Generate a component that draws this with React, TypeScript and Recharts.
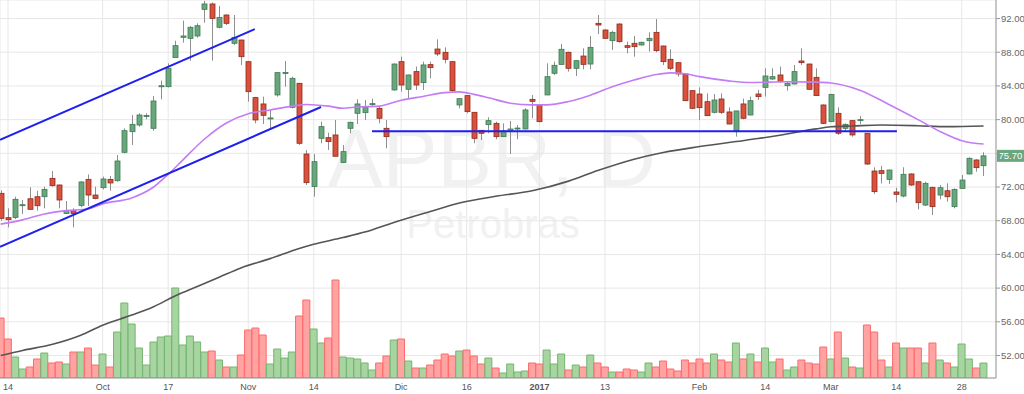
import React from "react";
import {
  ComposedChart,
  Bar,
  Line,
  XAxis,
  YAxis,
  CartesianGrid,
  ReferenceLine,
  Cell,
} from "recharts";

// APBR daily candles, 13 Sep 2016 .. 31 Mar 2017
// bar index 0 = 14 Sep (first bar on screen is index -1)
const FIRST_INDEX = -1;

const opens = [
  71.25, 68.36, 68.39, 69.8, 70.61, 70.85, 70.85, 73.03, 72.24, 68.87,
  69.19, 69.82, 72.91, 71.05, 71.92, 72.91, 72.75, 76.12, 78.57, 79.36,
  80.4, 78.97, 83.95, 83.91, 87.36, 89.77, 89.65, 89.93, 93.09, 93.73,
  90.96, 92.42, 89.06, 89.45, 86.88, 82.61, 81.86, 80.1, 82.93, 85.5,
  81.46, 84.31, 75.92, 72.05, 77.78, 77.86, 78.18, 74.9, 78.97, 80.75,
  80.83, 81.8, 81.34, 78.97, 83.52, 86.88, 83.6, 85.7, 84.39, 86.53,
  88.38, 87.99, 86.88, 81.74, 82.85, 80.87, 78.73, 79.4, 79.56, 77.98,
  78.65, 78.95, 78.89, 82.41, 81.7, 82.93, 85.5, 86.56, 87.99, 86.09,
  87.55, 86.6, 91.43, 90.64, 89.37, 91.35, 88.78, 89.06, 88.86, 89.37,
  90.36, 88.74, 87.16, 86.76, 85.42, 83.44, 83.04, 82.13, 80.87, 82.45,
  80.91, 78.69, 81.86, 80.55, 83.04, 83.83, 84.82, 85.3, 84.03, 84.23,
  86.96, 86.6, 85.02, 81.74, 79.76, 80.75, 78.97, 79.88, 79.88, 78.38,
  73.9, 73.94, 72.91, 71.41, 70.93, 73.55, 72.63, 69.86, 71.96, 71.05,
  71.56, 69.67, 71.84, 73.55, 75.21, 74.53,
];

const highs = [
  71.6, 69.47, 70.85, 70.46, 71.96, 71.56, 72.04, 73.9, 72.3, 70.34,
  69.47, 72.7, 73.5, 72.04, 73.23, 73.31, 75.8, 78.96, 80.55, 80.75,
  80.75, 82.8, 84.63, 86.68, 89.37, 91.75, 91.11, 91.43, 94.1, 93.9,
  93.49, 92.5, 92.42, 89.5, 86.95, 82.7, 82.73, 81.15, 85.6, 86.96,
  85.1, 84.35, 76.4, 75.92, 79.76, 78.45, 79.96, 76.99, 79.76, 82.41,
  82.33, 82.49, 81.54, 79.96, 86.68, 87.47, 85.35, 86.29, 86.88, 86.88,
  89.53, 88.58, 86.95, 82.53, 82.93, 80.9, 78.77, 80.28, 79.76, 79.56,
  79.84, 79.36, 81.34, 82.93, 81.78, 86.68, 86.88, 88.98, 88.07, 87.05,
  88.46, 89.93, 92.42, 90.72, 90.56, 91.43, 89.26, 89.93, 89.26, 90.36,
  91.94, 88.8, 88.35, 86.8, 85.45, 83.5, 83.83, 83.12, 83.04, 83.12,
  81.46, 81.05, 82.49, 82.73, 83.52, 86.09, 86.09, 86.29, 84.51, 86.49,
  88.46, 86.65, 86.09, 81.8, 83.05, 81.46, 79.56, 79.96, 80.43, 78.42,
  74.34, 74.5, 74.05, 71.92, 74.34, 73.6, 72.66, 72.63, 72.04, 72.24,
  72.44, 71.84, 73.43, 75.53, 75.29, 76.12,
];

const lows = [
  68.0, 67.21, 68.2, 68.8, 69.27, 69.19, 69.47, 72.04, 69.47, 68.8,
  67.21, 69.6, 69.75, 70.54, 71.72, 71.56, 72.63, 76.0, 76.99, 79.17,
  80.04, 78.69, 82.41, 83.83, 87.36, 89.14, 87.0, 89.73, 91.51, 87.0,
  90.84, 91.23, 88.86, 86.49, 82.13, 79.56, 79.48, 78.77, 82.73, 83.91,
  81.34, 76.99, 72.24, 70.86, 77.19, 76.4, 75.61, 74.85, 78.38, 79.48,
  79.96, 81.62, 79.56, 76.6, 83.44, 83.32, 82.53, 83.52, 83.52, 84.9,
  87.55, 86.68, 83.32, 81.34, 80.75, 77.19, 77.58, 78.38, 77.66, 77.95,
  75.92, 77.66, 78.85, 80.16, 79.68, 82.9, 85.3, 86.5, 85.7, 85.18,
  85.97, 85.97, 90.16, 89.57, 88.27, 89.14, 87.87, 87.47, 88.8, 88.07,
  87.99, 86.49, 85.89, 85.1, 82.2, 81.23, 79.96, 80.45, 80.75, 80.67,
  79.45, 77.98, 80.04, 80.5, 82.33, 82.73, 84.71, 84.39, 83.44, 84.2,
  86.49, 83.55, 82.8, 79.48, 79.7, 78.18, 78.57, 77.98, 79.48, 74.61,
  71.17, 72.44, 72.36, 70.18, 70.77, 72.12, 69.35, 69.74, 68.68, 70.54,
  70.26, 69.47, 71.8, 73.5, 73.82, 73.31,
];

const closes = [
  68.28, 68.12, 70.54, 69.9, 69.35, 69.78, 71.72, 72.16, 70.46, 69.19,
  68.87, 72.6, 71.05, 70.65, 72.95, 72.48, 75.09, 78.69, 79.44, 80.55,
  80.48, 82.21, 84.02, 86.09, 88.78, 89.93, 90.96, 91.15, 93.73, 92.02,
  92.14, 91.43, 89.77, 87.47, 83.32, 79.96, 80.51, 80.2, 85.58, 85.6,
  84.9, 77.19, 72.52, 75.01, 79.17, 77.39, 75.65, 76.2, 79.68, 81.86,
  81.46, 81.9, 80.16, 77.98, 86.6, 84.11, 85.3, 84.11, 86.49, 86.17,
  87.79, 87.16, 83.44, 82.49, 80.95, 77.78, 78.38, 79.88, 77.98, 78.65,
  78.89, 79.0, 81.15, 82.17, 79.76, 85.1, 86.45, 88.35, 86.09, 87.0,
  86.56, 88.58, 91.23, 89.65, 90.36, 89.26, 88.58, 88.66, 89.18, 89.65,
  88.19, 86.88, 86.09, 85.42, 82.25, 81.34, 81.42, 80.47, 82.33, 80.87,
  79.48, 81.03, 80.16, 82.25, 82.73, 85.18, 85.1, 84.51, 84.31, 85.7,
  86.76, 83.6, 82.85, 79.56, 83.0, 78.38, 79.44, 78.18, 80.0, 74.73,
  71.45, 73.62, 74.02, 71.13, 73.51, 72.24, 70.14, 72.44, 69.67, 71.92,
  70.85, 71.72, 72.83, 75.41, 74.3, 75.7,
];

// volume, relative units
const volumes = [
  60, 39, 21, 9, 11, 19, 25, 15, 16, 14,
  26, 26, 30, 13, 24, 11, 46, 75, 54, 30,
  13, 36, 41, 42, 90, 33, 42, 36, 26, 27,
  18, 11, 11, 23, 48, 50, 43, 14, 29, 20,
  26, 62, 78, 49, 35, 40, 98, 21, 20, 19,
  15, 8, 15, 22, 38, 39, 17, 10, 10, 13,
  18, 24, 22, 27, 28, 22, 14, 20, 10, 5,
  14, 6, 7, 15, 14, 28, 14, 24, 8, 13,
  11, 23, 15, 11, 6, 6, 9, 8, 6, 15,
  11, 17, 9, 7, 18, 15, 19, 15, 24, 18,
  16, 35, 19, 24, 16, 30, 16, 19, 8, 11,
  18, 15, 14, 31, 19, 46, 20, 11, 10, 53,
  46, 18, 11, 35, 30, 30, 30, 15, 35, 18,
  15, 11, 34, 19, 10, 15,
];

// fast moving average (purple), read at sample bars
const maFastIdx = [
  -1, 2, 5, 8, 11, 13, 17, 20, 22, 24, 27, 30, 33, 36, 39, 41, 44, 46, 48, 51,
  54, 57, 60, 62, 64, 66, 69, 72, 74, 77, 80, 83, 86, 89, 91, 93, 95, 99, 102,
  107, 111, 113, 117, 121, 125, 128, 131, 134,
];
const maFastVal = [
  67.6, 68.1, 68.8, 69.2, 69.4, 70.0, 70.7, 72.0, 73.5, 75.2, 77.7, 79.6, 80.7,
  81.15, 81.6, 81.8, 81.6, 81.35, 81.5, 81.6, 82.3, 82.75, 83.2, 83.3, 83.0,
  82.6, 81.95, 81.75, 81.75, 82.15, 82.9, 83.9, 84.7, 85.35, 85.55, 85.45, 85.1,
  84.6, 84.4, 84.5, 84.45, 84.35, 83.5, 81.8, 80.0, 78.6, 77.5, 77.1,
];

// slow moving average (dark grey)
const maSlowIdx = [
  -1, 2, 6, 10, 13, 17, 20, 23, 26, 29, 32, 36, 40, 42, 46, 49, 53, 58, 62, 67,
  72, 77, 81, 86, 90, 95, 100, 103, 106, 111, 113, 116, 120, 125, 129, 134,
];
const maSlowVal = [
  52.0, 52.6, 53.3, 54.4, 55.6, 56.8, 57.8, 59.1, 60.2, 61.3, 62.4, 63.5, 64.7,
  65.2, 66.0, 66.65, 67.8, 69.1, 70.1, 70.9, 71.55, 72.7, 73.95, 75.3, 76.1,
  76.8, 77.4, 77.75, 78.15, 78.9, 79.15, 79.25, 79.36, 79.28, 79.17, 79.25,
];

// drawn trend lines: [index, price] end points
const channelTop = [[-1.1, 77.6], [33.9, 90.75]];
const channelBottom = [[-1.1, 64.9], [43, 81.5]];
const supportLine = [[50, 78.63], [122.1, 78.63]];

const tickIdx = [0, 13, 22, 33, 42, 54, 63, 73, 82, 95, 104, 113, 122, 131];
const tickLabels = ["14", "Oct", "17", "Nov", "14", "Dic", "16", "2017", "13", "Feb", "14", "Mar", "14", "28"];
const priceTicks = [52, 56, 60, 64, 68, 72, 76, 80, 84, 88, 92];

const X_DOMAIN = [-1.1, 135.71];
const PRICE_DOMAIN = [49.33, 94.2];
const VOL_DOMAIN = [0, 378];

const GREEN = "#68a67c";
const GREEN_EDGE = "#3f7a53";
const RED = "#d9503d";
const RED_EDGE = "#8e2b1d";
const VOL_GREEN = "#a8d4a1";
const VOL_GREEN_EDGE = "#72b66f";
const VOL_RED = "#ffa3a3";
const VOL_RED_EDGE = "#ff6a6a";

const data = opens.map((o, k) => ({
  i: FIRST_INDEX + k,
  open: o,
  high: highs[k],
  low: lows[k],
  close: closes[k],
  vol: volumes[k],
}));

const maFast = maFastIdx.map((i, k) => ({ i, v: maFastVal[k] }));
const maSlow = maSlowIdx.map((i, k) => ({ i, v: maSlowVal[k] }));
const toSegment = (pts: number[][]) => pts.map(([x, y]) => ({ x, y }));

const lastClose = closes[closes.length - 1];

function Candle(props: any) {
  const { x, y, width, height, payload } = props;
  if (x == null || y == null || !payload) return null;
  const { open, close, high, low } = payload;
  const top = Math.min(y, y + height);
  const h = Math.abs(height);
  const k = high > low ? h / (high - low) : 0;
  const cx = Math.round(x + width / 2) + 0.5;
  const up = close >= open;
  const bodyTop = top + (high - Math.max(open, close)) * k;
  const bodyH = Math.max(1, Math.abs(close - open) * k);
  return (
    <g>
      <line x1={cx} x2={cx} y1={top} y2={top + h} stroke="#8f8f8f" strokeWidth={1} />
      <rect
        x={cx - 2.5}
        y={bodyTop}
        width={5}
        height={bodyH}
        fill={up ? GREEN : RED}
        stroke={up ? GREEN_EDGE : RED_EDGE}
        strokeWidth={0.8}
      />
    </g>
  );
}

function XTick(props: any) {
  const { x, y, payload } = props;
  const label = tickLabels[tickIdx.indexOf(payload.value)] ?? "";
  return (
    <text
      x={x}
      y={y}
      dy="0.71em"
      textAnchor="middle"
      fontSize={9}
      fill="#555"
      fontWeight={label === "2017" ? "bold" : "normal"}
    >
      {label}
    </text>
  );
}

function PriceTag(props: any) {
  const vb = props.viewBox || {};
  const right = (vb.x ?? 0) + (vb.width ?? 0);
  const cy = vb.y ?? 0;
  return (
    <g>
      <rect x={right + 1} y={cy - 6} width={27} height={12} fill="#6aa67f" />
      <text x={right + 2.5} y={cy} dy="0.35em" fontSize={9.5} fill="#fff">
        {lastClose.toFixed(2)}
      </text>
    </g>
  );
}

export default function App() {
  return (
    <div
      style={{
        position: "absolute",
        left: 0,
        top: 0,
        width: 1024,
        height: 394,
        background: "#fff",
        fontFamily: "'Liberation Sans', Arial, sans-serif",
      }}
    >
      {/* watermark */}
      <svg width={1024} height={394} style={{ position: "absolute", left: 0, top: 0 }}>
        <text x={492} y={186} textAnchor="middle" fontSize={82} fill="#f1f1f1">
          APBR, D
        </text>
        <text x={493} y={238} textAnchor="middle" fontSize={40} fill="#f1f1f1">
          Petrobras
        </text>
      </svg>

      <div style={{ position: "absolute", left: 0, top: 0 }}>
        <ComposedChart width={1024} height={394} data={data} margin={{ top: 0, right: 0, bottom: 0, left: 0 }}>
          <CartesianGrid xAxisId="p" yAxisId="p" stroke="#e7e7e7" />
          <XAxis
            xAxisId="p"
            type="number"
            dataKey="i"
            domain={X_DOMAIN}
            allowDataOverflow
            ticks={tickIdx}
            interval={0}
            height={16}
            tickLine={false}
            tickSize={4}
            tickMargin={2}
            axisLine={{ stroke: "#999" }}
            tick={<XTick />}
          />
          <XAxis xAxisId="v" type="number" dataKey="i" domain={X_DOMAIN} allowDataOverflow hide />
          <YAxis
            yAxisId="p"
            orientation="right"
            domain={PRICE_DOMAIN}
            allowDataOverflow
            ticks={priceTicks}
            interval={0}
            width={28}
            tickSize={4}
            tickMargin={1}
            tickFormatter={(v: number) => (v === 76 ? "" : v.toFixed(2))}
            tick={{ fontSize: 9.5, fill: "#666" }}
            axisLine={{ stroke: "#999" }}
            tickLine={{ stroke: "#999" }}
          />
          <YAxis yAxisId="v" domain={VOL_DOMAIN} allowDataOverflow hide />

          <Bar xAxisId="v" yAxisId="v" dataKey="vol" barSize={7} isAnimationActive={false}>
            {data.map((d) => (
              <Cell
                key={`v-${d.i}`}
                fill={d.close >= d.open ? VOL_GREEN : VOL_RED}
                stroke={d.close >= d.open ? VOL_GREEN_EDGE : VOL_RED_EDGE}
                strokeWidth={1}
              />
            ))}
          </Bar>

          <Line
            xAxisId="p"
            yAxisId="p"
            data={maSlow}
            dataKey="v"
            type="monotone"
            stroke="#555"
            strokeWidth={1.6}
            dot={false}
            activeDot={false}
            isAnimationActive={false}
          />
          <Line
            xAxisId="p"
            yAxisId="p"
            data={maFast}
            dataKey="v"
            type="monotone"
            stroke="#c47cf6"
            strokeWidth={1.6}
            dot={false}
            activeDot={false}
            isAnimationActive={false}
          />

          <ReferenceLine xAxisId="p" yAxisId="p" segment={toSegment(channelTop)} stroke="#1f1fee" strokeWidth={2} ifOverflow="visible" />
          <ReferenceLine xAxisId="p" yAxisId="p" segment={toSegment(channelBottom)} stroke="#1f1fee" strokeWidth={2} ifOverflow="visible" />
          <ReferenceLine xAxisId="p" yAxisId="p" segment={toSegment(supportLine)} stroke="#1f1fee" strokeWidth={2} ifOverflow="visible" />

          <Bar
            xAxisId="p"
            yAxisId="p"
            dataKey={(d: any) => [d.low, d.high]}
            barSize={5}
            shape={<Candle />}
            isAnimationActive={false}
          />

          <ReferenceLine xAxisId="p" yAxisId="p" y={lastClose} stroke="none" label={<PriceTag />} />
        </ComposedChart>
      </div>
    </div>
  );
}
